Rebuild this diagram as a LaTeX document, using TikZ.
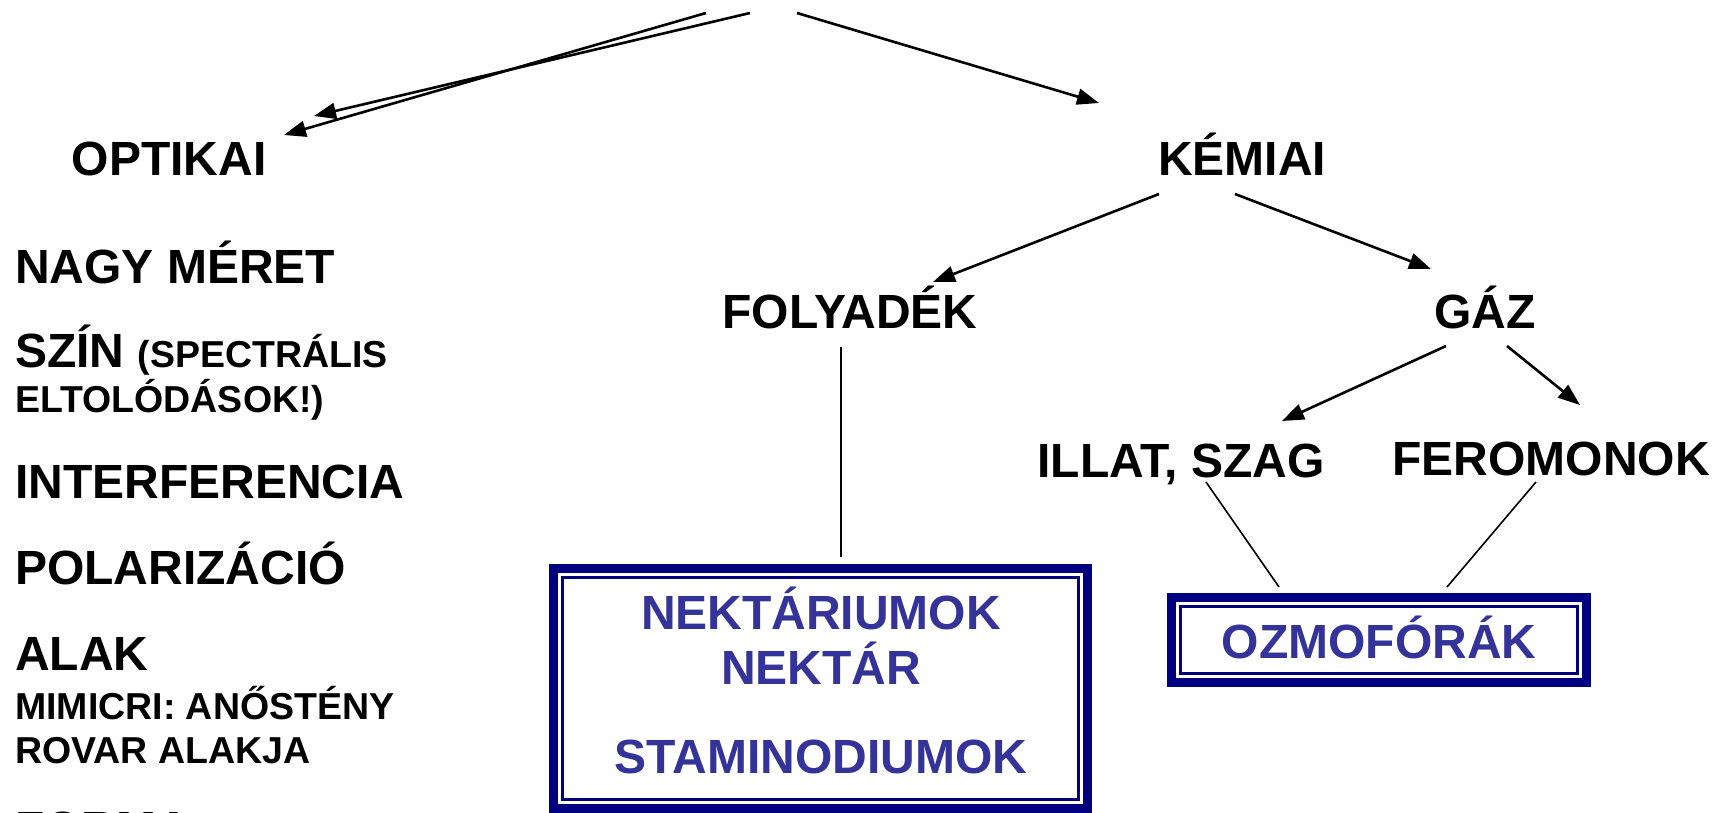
\documentclass[tikz,border=0pt]{standalone}
\usepackage{fontspec}
\setmainfont{Liberation Sans}
\usetikzlibrary{arrows.meta}
\definecolor{boxnavy}{RGB}{0,0,128}
\definecolor{boxtext}{RGB}{51,51,153}
\newcommand{\bigf}{\fontsize{48}{57}\selectfont\bfseries}
\newcommand{\smallf}{\fontsize{37.5}{45}\selectfont\bfseries}
\begin{document}
\begin{tikzpicture}[x=1pt,y=-1pt,
  lbl/.style={inner sep=0pt,anchor=base,font=\bigf},
  lbll/.style={inner sep=0pt,anchor=base west,font=\bigf},
  lbls/.style={inner sep=0pt,anchor=base west,font=\smallf},
  boxtxt/.style={inner sep=0pt,anchor=base,font=\bigf,text=boxtext},
  arr/.style={line width=2.6pt,-{Triangle[length=22pt,width=16pt]}},
  thin/.style={line width=1.6pt},
  outerbox/.style={draw=boxnavy,line width=9pt,fill=white,inner sep=0pt},
  innerbox/.style={draw=boxnavy,line width=3pt,inner sep=0pt}]
\useasboundingbox (0,0) rectangle (1729,813);
\fill[white] (0,0) rectangle (1729,813);

% left column
\node[lbl] (optikai) at (169,176) {OPTIKAI};
\node[lbll] (nagy) at (15,283) {NAGY MÉRET};
\node[lbll] (szin) at (15,367) {SZÍN {\smallf (SPECTRÁLIS}};
\node[lbls] (eltol) at (15,412) {ELTOLÓDÁSOK!)};
\node[lbll] (interf) at (15,498) {INTERFERENCIA};
\node[lbll] (polar) at (15,584) {POLARIZÁCIÓ};
\node[lbll] (alak) at (15,670) {ALAK};
\node[lbls] (mimicri) at (15,719) {MIMICRI: ANŐSTÉNY};
\node[lbls] (rovar) at (15,763) {ROVAR ALAKJA};
\node[lbll] (forma) at (15,845) {FORMA};

% right tree
\node[lbl] (kemiai) at (1242,176) {KÉMIAI};
\node[lbl] (folyadek) at (850,328) {FOLYADÉK};
\node[lbl] (gaz) at (1485,328) {GÁZ};
\node[lbl] (illat) at (1181,477) {ILLAT, SZAG};
\node[lbl] (feromonok) at (1551,475) {FEROMONOK};

% boxes
\node[outerbox,minimum width=534pt,minimum height=240pt] (box1) at (820.5,688.5) {};
\node[innerbox,minimum width=516pt,minimum height=222pt] (box1in) at (box1.center) {};
\node[boxtxt] (nekt1) at (821,629) {NEKTÁRIUMOK};
\node[boxtxt] (nekt2) at (821,684) {NEKTÁR};
\node[boxtxt] (stam) at (821,773) {STAMINODIUMOK};

\node[outerbox,minimum width=415pt,minimum height=85pt] (box2) at (1379,640) {};
\node[innerbox,minimum width=397pt,minimum height=67pt] (box2in) at (box2.center) {};
\node[boxtxt] (ozmo) at (1379,658) {OZMOFÓRÁK};

% top arrows (free ends)
\coordinate (tA) at (706,13);
\coordinate (tB) at (750,13);
\coordinate (tC) at (797,13);
\coordinate (eA) at (284,135);
\coordinate (eB) at (314,116);
\coordinate (eC) at (1099,103);
\draw[arr] (tA) -- (eA);
\draw[arr] (tB) -- (eB);
\draw[arr] (tC) -- (eC);

% kemiai branches
\coordinate (k1) at (1159,194);
\coordinate (k2) at (1235,194);
\coordinate (f1) at (933,282);
\coordinate (g1) at (1431,269);
\draw[arr] (k1) -- (f1);
\draw[arr] (k2) -- (g1);
\coordinate (gz1) at (1446,346);
\coordinate (gz2) at (1507,346);
\coordinate (il1) at (1282,421);
\coordinate (fe1) at (1580,405);
\draw[arr] (gz1) -- (il1);
\draw[arr] (gz2) -- (fe1);

% plain lines to boxes
\coordinate (fy1) at (841,347);
\coordinate (fy2) at (841,557);
\draw[thin] (fy1) -- (fy2);
\coordinate (il2) at (1206,482);
\coordinate (il3) at (1279,587);
\coordinate (fe2) at (1536,482);
\coordinate (fe3) at (1447,587);
\draw[thin] (il2) -- (il3);
\draw[thin] (fe2) -- (fe3);
\end{tikzpicture}
\end{document}
